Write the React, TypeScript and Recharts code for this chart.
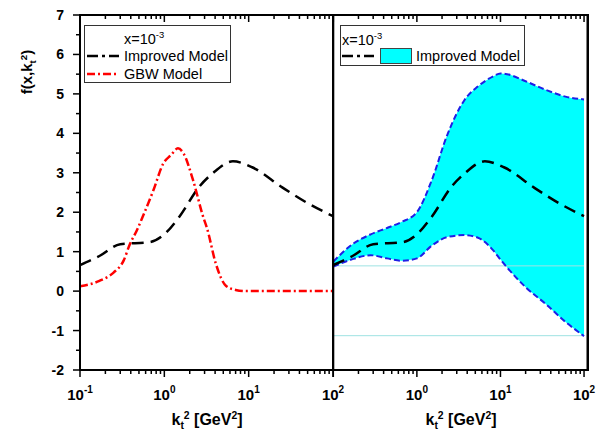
import React, { useEffect, useState } from 'react';
import { ComposedChart, Line, Area, XAxis, YAxis, ReferenceLine } from 'recharts';

// kt^2 grid values and f(x, kt^2) (x = 1e-3)
const improvedX = [0.1, 0.17, 0.3, 0.67, 1.0, 1.5, 2.6, 3.8, 6.5, 11, 25, 52, 100];
const improvedY = [0.66, 0.89, 1.19, 1.24, 1.44, 1.88, 2.65, 3.0, 3.29, 3.14, 2.63, 2.21, 1.9];

const gbwX = [0.1, 0.17, 0.25, 0.33, 0.39, 0.47, 0.56, 0.74, 0.97, 1.2, 1.45, 1.7, 2.2, 2.9, 3.2, 4.1, 5.4, 7, 9.3, 100];
const gbwY = [0.12, 0.26, 0.47, 0.78, 1.19, 1.53, 1.91, 2.55, 3.23, 3.45, 3.62, 3.48, 2.8, 1.87, 1.6, 0.68, 0.13, 0.03, 0, 0];

const bandX = [0.1, 0.17, 0.28, 0.44, 0.65, 1.0, 1.5, 2.3, 3.7, 5.3, 8.3, 10, 12, 20, 35, 60, 100];
const bandHi = [0.75, 1.19, 1.44, 1.6, 1.75, 2.0, 2.8, 3.95, 4.84, 5.18, 5.45, 5.52, 5.5, 5.32, 5.1, 4.93, 4.86];
const bandLo = [0.62, 0.81, 0.91, 0.83, 0.77, 0.83, 1.15, 1.37, 1.42, 1.36, 1.02, 0.8, 0.6, 0.1, -0.33, -0.78, -1.14];

const baseLines = [0.64, -1.13];

const xTicks = [0.1, 0.2, 0.3, 0.4, 0.5, 0.6, 0.7, 0.8, 0.9, 1, 2, 3, 4, 5, 6, 7, 8, 9, 10, 20, 30, 40, 50, 60, 70, 80, 90, 100];
const yTicks = [-2, -1.5, -1, -0.5, 0, 0.5, 1, 1.5, 2, 2.5, 3, 3.5, 4, 4.5, 5, 5.5, 6, 6.5, 7];
const yDomain = [-2, 7];
const leftDomain = [0.1, 100];
const rightDomain = [0.1, 110];

const improved = improvedX.map((x, i) => ({ x, y: improvedY[i] }));
const gbw = gbwX.map((x, i) => ({ x, y: gbwY[i] }));
const band = bandX.map((x, i) => ({ x, lo: bandLo[i], hi: bandHi[i], range: [bandLo[i], bandHi[i]] }));

const FONT = '"Liberation Sans", Arial, sans-serif';

function XTick(props: any) {
  const { x, y, payload, labels } = props;
  const v = payload.value;
  const e = Math.round(Math.log10(v));
  const major = Math.abs(Math.log10(v) - e) < 1e-6;
  const len = major ? 7 : 4;
  return (
    <g>
      <line x1={x} y1={y} x2={x} y2={y + len} stroke="#000" strokeWidth={1.5} />
      {labels && major && labels.includes(e) && (
        <text x={x} y={y + 30} textAnchor="middle" fontSize={15} fontWeight="bold" fontFamily={FONT} fill="#000">
          <tspan>10</tspan>
          <tspan dy={-7} fontSize={10}>{e}</tspan>
        </text>
      )}
    </g>
  );
}

function YTick(props: any) {
  const { x, y, payload, labels } = props;
  const v = payload.value;
  const major = Number.isInteger(v);
  const len = major ? 7 : 4;
  return (
    <g>
      <line x1={x} y1={y} x2={x - len} y2={y} stroke="#000" strokeWidth={1.5} />
      {labels && major && (
        <text x={x - 16} y={y} dy="0.36em" textAnchor="end" fontSize={14} fontWeight="bold" fontFamily={FONT} fill="#000">
          {v}
        </text>
      )}
    </g>
  );
}

function Frame({ domain, labels, leftTicks }: { domain: number[]; labels: number[]; leftTicks: boolean }) {
  const ax = { stroke: '#000', strokeWidth: 2 };
  return [
    <XAxis
      key="b"
      dataKey="x"
      type="number"
      scale="log"
      domain={domain}
      allowDataOverflow
      ticks={xTicks}
      interval={0}
      tickSize={0}
      tickMargin={0}
      height={40}
      axisLine={ax}
      tickLine={false}
      tick={(p: any) => <XTick {...p} labels={labels} />}
    />,
    <XAxis
      key="t"
      xAxisId="top"
      orientation="top"
      dataKey="x"
      type="number"
      scale="log"
      domain={domain}
      allowDataOverflow
      ticks={xTicks}
      interval={0}
      tickSize={0}
      tickMargin={0}
      height={1}
      axisLine={ax}
      tickLine={false}
      tick={(p: any) => <XTick {...p} />}
    />,
    <YAxis
      key="l"
      type="number"
      domain={yDomain}
      ticks={yTicks}
      interval={0}
      tickSize={0}
      tickMargin={0}
      width={leftTicks ? 60 : 1}
      axisLine={ax}
      tickLine={false}
      tick={leftTicks ? (p: any) => <YTick {...p} labels /> : false}
    />,
    <YAxis
      key="r"
      yAxisId="right"
      orientation="right"
      type="number"
      domain={yDomain}
      ticks={yTicks}
      interval={0}
      tickSize={0}
      tickMargin={0}
      width={1}
      axisLine={ax}
      tickLine={false}
      tick={(p: any) => <YTick {...p} />}
    />,
  ];
}

function Sup({ children }: { children: React.ReactNode }) {
  return <span style={{ fontSize: '0.65em', verticalAlign: '0.6em' }}>{children}</span>;
}
function Sub({ children }: { children: React.ReactNode }) {
  return <span style={{ fontSize: '0.65em', verticalAlign: '-0.35em' }}>{children}</span>;
}

function XTitle({ left }: { left: number }) {
  return (
    <div
      style={{
        position: 'absolute',
        left,
        top: 411,
        transform: 'translateX(-50%)',
        whiteSpace: 'nowrap',
        fontWeight: 'bold',
        fontSize: 16,
        lineHeight: 1,
        fontFamily: FONT,
      }}
    >
      k<Sub>t</Sub>
      <Sup>2</Sup> [GeV<Sup>2</Sup>]
    </div>
  );
}

function DashSample({ color, dash, width = 32 }: { color: string; dash: string; width?: number }) {
  return (
    <svg width={width} height={6} style={{ display: 'block' }}>
      <line x1={0} y1={3} x2={width} y2={3} stroke={color} strokeWidth={2.5} strokeDasharray={dash} />
    </svg>
  );
}

const legendBox: React.CSSProperties = {
  position: 'absolute',
  border: '1px solid #333',
  background: '#fff',
  fontSize: 14.5,
  lineHeight: 1,
  fontFamily: FONT,
};

// panel border boxes (plain decoration around each plot area)
const panelBox: React.CSSProperties = {
  position: 'absolute',
  top: 14,
  height: 357,
  boxSizing: 'border-box',
  border: '2px solid #000',
  pointerEvents: 'none',
};

export default function App() {
  // a few extra renders after mount so every axis layer gets drawn
  const [pass, setPass] = useState(0);
  useEffect(() => {
    if (pass < 5) {
      const t = setTimeout(() => setPass(pass + 1), 40);
      return () => clearTimeout(t);
    }
  }, [pass]);

  return (
    <div style={{ position: 'absolute', left: 0, top: 0 }} data-pass={pass}>
      <style>{'.recharts-surface { overflow: visible; }'}</style>
      <div style={{ position: 'absolute', left: 0, top: 0 }}>
        <ComposedChart width={334} height={436} margin={{ top: 14, right: 0, bottom: 26, left: 20 }}>
          <Line data={improved} dataKey="y" type="monotone" stroke="#000" strokeWidth={2.5} strokeDasharray="12 7" dot={false} isAnimationActive={false} />
          <Line data={gbw} dataKey="y" type="monotone" stroke="#ff0000" strokeWidth={2.5} strokeDasharray="8 3 2 3" dot={false} isAnimationActive={false} />
          {Frame({ domain: leftDomain, labels: [-1, 0, 1, 2], leftTicks: true })}
        </ComposedChart>
      </div>
      <div style={{ position: 'absolute', left: 332, top: 0 }}>
        <ComposedChart width={273} height={436} margin={{ top: 14, right: 16.5, bottom: 26, left: 0.3 }}>
          {baseLines.map((b) => (
            <ReferenceLine
              key={b}
              segment={[{ x: 0.1, y: b }, { x: 100, y: b }]}
              stroke="#9fe3e3"
              strokeWidth={1}
            />
          ))}
          <Area data={band} dataKey="range" type="monotone" stroke="none" fill="#00ffff" fillOpacity={1} isAnimationActive={false} />
          <Line data={band} dataKey="hi" type="monotone" stroke="#1f1fe6" strokeWidth={2} strokeDasharray="6 3" dot={false} isAnimationActive={false} />
          <Line data={band} dataKey="lo" type="monotone" stroke="#1f1fe6" strokeWidth={2} strokeDasharray="6 3" dot={false} isAnimationActive={false} />
          <Line data={improved} dataKey="y" type="monotone" stroke="#000" strokeWidth={2.5} strokeDasharray="12 7" dot={false} isAnimationActive={false} />
          {Frame({ domain: rightDomain, labels: [0, 1, 2], leftTicks: false })}
        </ComposedChart>
      </div>

      <div style={{ ...panelBox, left: 79, width: 255 }} />
      <div style={{ ...panelBox, left: 332, width: 256.5 }} />

      {/* left legend */}
      <div style={{ ...legendBox, left: 84, top: 25, width: 145, height: 56 }}>
        <div style={{ position: 'absolute', left: 39, top: 4 }}>
          x=10<Sup>-3</Sup>
        </div>
        <div style={{ position: 'absolute', left: 2, top: 27 }}>
          <DashSample color="#000" dash="11 4 3 4" />
        </div>
        <div style={{ position: 'absolute', left: 39, top: 23 }}>Improved Model</div>
        <div style={{ position: 'absolute', left: 2, top: 45 }}>
          <DashSample color="#ff0000" dash="8 3 2 3" />
        </div>
        <div style={{ position: 'absolute', left: 39, top: 41 }}>GBW Model</div>
      </div>

      {/* right legend */}
      <div style={{ ...legendBox, left: 340, top: 25, width: 183, height: 39 }}>
        <div style={{ position: 'absolute', left: 1, top: 5 }}>
          x=10<Sup>-3</Sup>
        </div>
        <div style={{ position: 'absolute', left: 1, top: 27 }}>
          <DashSample color="#000" dash="11 4 3 4" />
        </div>
        <div
          style={{
            position: 'absolute',
            left: 39,
            top: 22,
            width: 30,
            height: 14,
            background: '#00ffff',
            border: '1px solid #444',
          }}
        />
        <div style={{ position: 'absolute', left: 75, top: 23 }}>Improved Model</div>
      </div>

      <div
        style={{
          position: 'absolute',
          left: 28,
          top: 72,
          transform: 'translate(-50%, -50%) rotate(-90deg)',
          whiteSpace: 'nowrap',
          fontWeight: 'bold',
          fontSize: 15,
          lineHeight: 1,
          fontFamily: FONT,
        }}
      >
        f(x,k<Sub>t</Sub>
        <Sup>2</Sup>)
      </div>
      <XTitle left={207} />
      <XTitle left={461} />
    </div>
  );
}
